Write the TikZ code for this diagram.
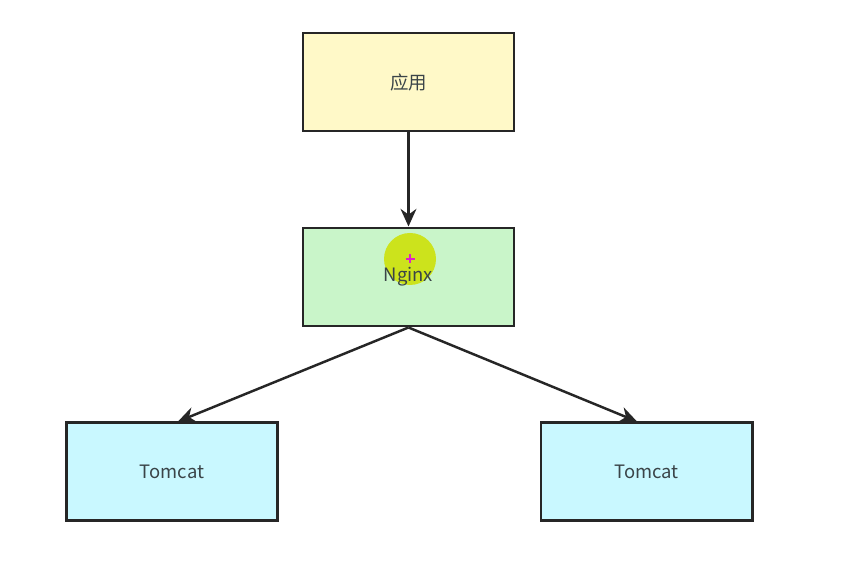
\documentclass[tikz,border=0pt]{standalone}
\usepackage{fontspec}
\setmainfont{Noto Sans CJK SC}
\usetikzlibrary{
  arrows.meta,
  positioning,  % below=of ...
  calc,         % $...$
}
\definecolor{appyellow}{HTML}{FFF9C8}
\definecolor{nginxgreen}{HTML}{C9F5C9}
\definecolor{tomcyan}{HTML}{C9F8FF}
\definecolor{boxline}{HTML}{262626}
\definecolor{boxtext}{HTML}{3A4448}
\definecolor{cursorhl}{HTML}{CCE31C}
\definecolor{cursorplus}{HTML}{E020C8}
\tikzset{
  font=\fontsize{10.5pt}{12pt}\selectfont,
  my box/.style={
    draw=boxline,
    line width=1.7pt,
    minimum width=4.22cm,
    minimum height=1.96cm,
    inner sep=0mm,
    text=boxtext,
    rectangle
  },
  my arrow/.style={
    draw=boxline,
    line width=1.4pt,
    -{Stealth[length=10pt,width=9pt]}
  },
  % highlight of the mouse pointer in the screenshot
  cursor mark/.style={
    path picture={
      \fill[cursorhl] ($(path picture bounding box.center)+(0.03,0.36)$) circle (0.52);
      \draw[cursorplus,line width=0.8pt]
        ($(path picture bounding box.center)+(0.03,0.36)+(-0.09,0)$) -- ++(0.18,0)
        ($(path picture bounding box.center)+(0.03,0.36)+(0,-0.09)$) -- ++(0,0.18);
    }
  }
}
\begin{document}
\begin{tikzpicture}
\useasboundingbox[fill=white] (-8.17,1.64) rectangle (8.93,-9.64);
\node[my box,fill=appyellow] (app) at (0,0) {应用};
\node[my box,fill=nginxgreen,cursor mark] (nginx) [below=1.88cm of app] {Nginx};
\node[my box,fill=tomcyan] (tomL) [below=1.88cm of nginx,xshift=-4.73cm] {Tomcat};
\node[my box,fill=tomcyan] (tomR) [below=1.88cm of nginx,xshift=4.76cm] {Tomcat};
\draw[my arrow] (app.south) -- (nginx.north);
\draw[my arrow] (nginx.south) -- ($(tomL.north)+(0.12,0)$);
\draw[my arrow] (nginx.south) -- ($(tomR.north)+(-0.19,0)$);
\end{tikzpicture}
\end{document}
